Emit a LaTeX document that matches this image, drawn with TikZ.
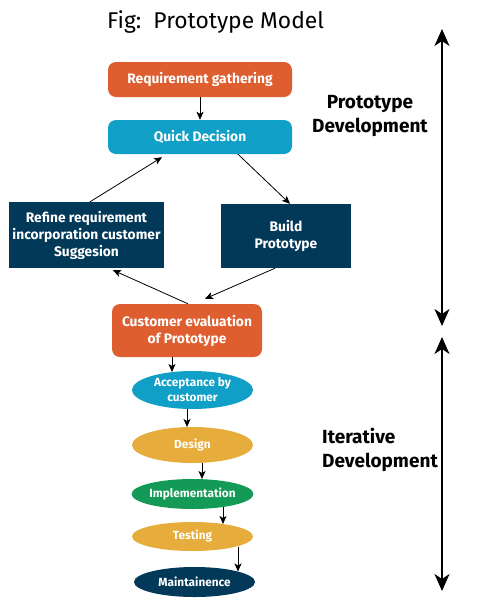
\documentclass[tikz,border=0pt]{standalone}
\usepackage{fontspec}
\setmainfont{Fira Sans}
\usetikzlibrary{shapes.geometric,arrows.meta,calc}
\definecolor{cOrange}{HTML}{DF5E30}
\definecolor{cBlue}{HTML}{109FC7}
\definecolor{cNavy}{HTML}{023858}
\definecolor{cGold}{HTML}{E7AD3C}
\definecolor{cGreen}{HTML}{149A57}
\tikzset{
  boxtext/.style={text=white,font=\bfseries\fontsize{13.8}{17}\selectfont,align=center,inner sep=0pt},
  rbox/.style={boxtext,rectangle,rounded corners=8pt},
  sbox/.style={boxtext,rectangle},
  ebox/.style={boxtext,ellipse,minimum width=121pt,font=\bfseries\fontsize{11.8}{15}\selectfont},
  arr/.style={-{Stealth[length=8pt,width=7pt,inset=2pt]},line width=0.8pt,black},
  bigarr/.style={{Stealth[length=17pt,width=15pt,inset=5pt]}-{Stealth[length=17pt,width=15pt,inset=5pt]},line width=2pt,black},
  sidelabel/.style={font=\bfseries\fontsize{19}{24}\selectfont,inner sep=0pt}
}
\begin{document}
\begin{tikzpicture}[x=1pt,y=-1pt]
\useasboundingbox (0,0) rectangle (500,600);
\fill[white] (0,0) rectangle (500,600);
\node[anchor=west,font=\fontsize{22.8}{26}\selectfont,inner sep=0pt] (title) at (107,22) {Fig:\ \ Prototype Model};

\node[rbox,fill=cOrange,minimum width=184pt,minimum height=35pt] (req) at (200,79.5) {Requirement gathering};
\node[rbox,fill=cBlue,minimum width=184pt,minimum height=34pt] (quick) at (200,137) {Quick Decision};
\node[sbox,fill=cNavy,minimum width=155pt,minimum height=66pt] (refine) at (86.5,235) {Refine requirement\\incorporation customer\\Suggesion};
\node[sbox,fill=cNavy,minimum width=130pt,minimum height=64pt] (build) at (286,236) {Build\\Prototype};
\node[rbox,fill=cOrange,minimum width=150pt,minimum height=53pt] (cust) at (187,330.5) {Customer evaluation\\of Prototype};

\node[ebox,fill=cBlue,minimum height=38pt] (acc) at (192.5,390) {Acceptance by\\customer};
\node[ebox,fill=cGold,minimum height=36pt] (design) at (192.5,445) {Design};
\node[ebox,fill=cGreen,minimum height=30pt] (impl) at (192.5,494) {Implementation};
\node[ebox,fill=cGold,minimum height=29pt] (test) at (192.5,536.5) {Testing};
\node[ebox,fill=cNavy,minimum height=30pt] (maint) at (194.5,582) {Maintainence};

\draw[arr] (req.south) -- (quick.north);
\draw[arr] ([xshift=38pt]quick.south) -- ([xshift=4pt]build.north);
\draw[arr] ([xshift=3.5pt]refine.north) -- ([xshift=-38pt,yshift=-3pt]quick.south);
\draw[arr] ([xshift=1pt]cust.north) -- ([xshift=26.5pt,yshift=-2pt]refine.south);
\draw[arr] ([xshift=-11pt]build.south) -- ([xshift=18pt,yshift=5pt]cust.north);
\draw[arr] ([xshift=-15pt]cust.south) -- ($(acc.center)+(-20.5,-18)$);
\draw[arr] ($(acc.center)+(-5.5,19)$) -- ($(design.center)+(-5.5,-18)$);
\draw[arr] ($(design.center)+(9.5,18)$) -- ($(impl.center)+(9.5,-15)$);
\draw[arr] ($(impl.center)+(30.5,13)$) -- ($(test.center)+(30.5,-12.5)$);
\draw[arr] ($(test.center)+(45.5,10)$) -- ($(maint.center)+(43.5,-10.5)$);

\node[sidelabel,align=center] (protolbl) at (370,116.5) {Prototype\\Development};
\node[sidelabel,align=left,anchor=west] (iterlbl) at (322,449.5) {Iterative\\Development};

\coordinate (t1) at (442,29);
\coordinate (b1) at (442,326);
\coordinate (t2) at (442,337);
\coordinate (b2) at (442,591);
\draw[bigarr] (t1) -- (b1);
\draw[bigarr] (t2) -- (b2);
\end{tikzpicture}
\end{document}
